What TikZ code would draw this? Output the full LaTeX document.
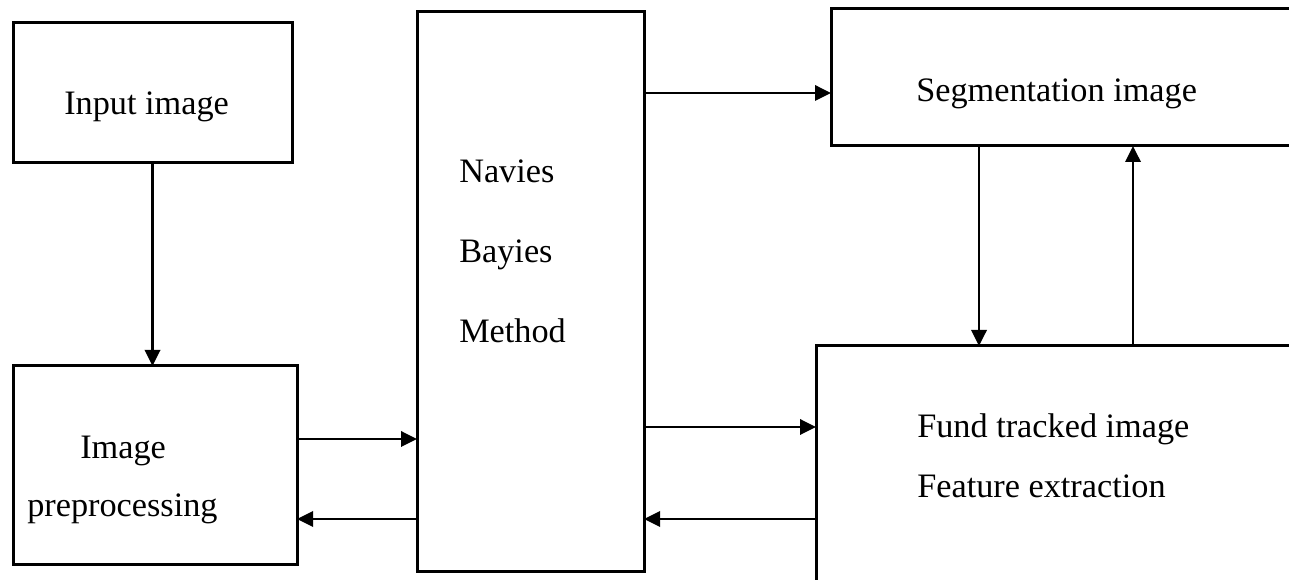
\documentclass[tikz,border=0pt]{standalone}
\usepackage{fontspec}
\setmainfont{Liberation Serif}
\usetikzlibrary{arrows.meta}
\begin{document}
\begin{tikzpicture}
[
    x=0.75pt, y=-0.75pt,
    box/.style={draw, line width=2.25pt, inner sep=0pt, outer sep=0pt},
    lbl/.style={anchor=base west, inner sep=0pt, font=\fontsize{25.7pt}{30pt}\selectfont},
    arr/.style={line width=1.8pt, -{Triangle[length=12pt, width=11.5pt]}}
]
    \useasboundingbox (0,0) rectangle (1289,580);
    \clip (0,0) rectangle (1289,580);
    % boxes
    \node [box, minimum width=209.25pt, minimum height=105pt] (inp) at (152.5,93) {};
    \node [box, minimum width=213pt, minimum height=149.25pt] (pre) at (155,465.5) {};
    \node [box, minimum width=170.25pt, minimum height=420pt] (mid) at (530.5,292) {};
    \node [box, minimum width=351.75pt, minimum height=102.75pt] (seg) at (1065.5,77.5) {};
    \node [box, minimum width=363pt, minimum height=190.5pt] (fnd) at (1058,473) {};
    % texts
    \node [lbl] (tinp) at (64,115) {Input image};
    \node [lbl] (tpre1) at (80,459) {Image};
    \node [lbl] (tpre2) at (27,517) {preprocessing};
    \node [lbl] (tmid1) at (459,183) {Navies};
    \node [lbl] (tmid2) at (459,263) {Bayies};
    \node [lbl] (tmid3) at (459,343) {Method};
    \node [lbl] (tseg) at (916,102) {Segmentation image};
    \node [lbl] (tfnd1) at (917,438) {Fund tracked image};
    \node [lbl] (tfnd2) at (917,498) {Feature extraction};
    % connectors
    \draw [arr] (inp.south) -- (inp.south |- pre.north);
    \draw [arr] (pre.east |- 0,439) -- (mid.west |- 0,439);
    \draw [arr] (mid.west |- 0,519) -- (pre.east |- 0,519);
    \draw [arr] (mid.east |- 0,93) -- (seg.west |- 0,93);
    \draw [arr] (mid.east |- 0,427) -- (fnd.west |- 0,427);
    \draw [arr] (fnd.west |- 0,519) -- (mid.east |- 0,519);
    \draw [arr] (seg.south -| 979,0) -- (fnd.north -| 979,0);
    \draw [arr] (fnd.north -| 1133,0) -- (seg.south -| 1133,0);
\end{tikzpicture}
\end{document}
